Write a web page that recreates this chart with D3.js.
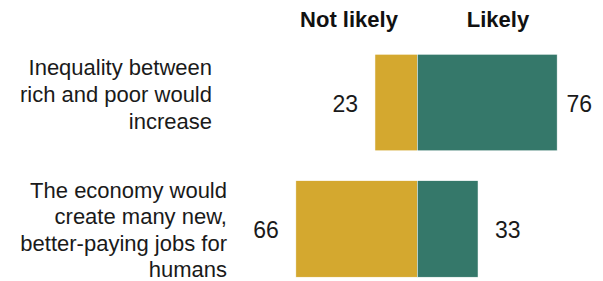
<!DOCTYPE html>
<html>
<head>
<meta charset="utf-8">
<script src="https://cdn.jsdelivr.net/npm/d3@7"></script>
<style>
  html, body { margin: 0; padding: 0; background: #fff; }
  svg { display: block; }
  text { font-family: "Liberation Sans", Arial, sans-serif; fill: #1a1a1a; }
</style>
</head>
<body>
<svg id="chart" width="603" height="281"></svg>
<script>
// ---- data ----
const categories = [
  "Inequality between rich and poor would increase",
  "The economy would create many new, better-paying jobs for humans"
];
const categoryLines = [
  ["Inequality between", "rich and poor would", "increase"],
  ["The economy would", "create many new,", "better-paying jobs for", "humans"]
];
const notLikely = [23, 66];
const likely = [76, 33];
const seriesNames = ["Not likely", "Likely"];
const seriesColors = ["#D4A82F", "#35786A"];

// ---- layout ----
const W = 603, H = 281;
const center = 417.3;
const unit = 1.84;
const svg = d3.select("#chart");

const x = d3.scaleLinear().domain([-100, 100]).range([center - 100 * unit, center + 100 * unit]);
const y = d3.scaleBand().domain(categories).range([54.3, 277.2]).paddingInner(0.237).paddingOuter(0);

// header labels
const headerX = [349, 498];
svg.selectAll("text.header").data(seriesNames).join("text")
  .attr("class", "header")
  .attr("x", (d, i) => headerX[i])
  .attr("y", 27)
  .attr("text-anchor", "middle")
  .style("font-weight", "bold")
  .style("font-size", "22px")
  .style("fill", "#111")
  .text(d => d);

const rows = categories.map((c, i) => ({ cat: c, nl: notLikely[i], l: likely[i], lines: categoryLines[i], i }));

// bars
const g = svg.append("g");
g.selectAll("rect.nl").data(rows).join("rect")
  .attr("class", "nl")
  .attr("x", d => x(-d.nl))
  .attr("y", d => y(d.cat))
  .attr("width", d => x(0) - x(-d.nl))
  .attr("height", y.bandwidth())
  .attr("fill", seriesColors[0])
  .attr("stroke", "#fff").attr("stroke-width", 0.5);

g.selectAll("rect.l").data(rows).join("rect")
  .attr("class", "l")
  .attr("x", x(0))
  .attr("y", d => y(d.cat))
  .attr("width", d => x(d.l) - x(0))
  .attr("height", y.bandwidth())
  .attr("fill", seriesColors[1])
  .attr("stroke", "#fff").attr("stroke-width", 0.5);

// value labels
const valFont = "23px";
g.selectAll("text.vnl").data(rows).join("text")
  .attr("class", "vnl")
  .attr("x", d => x(-d.nl) - 17)
  .attr("y", d => y(d.cat) + y.bandwidth() / 2 + 9)
  .attr("text-anchor", "end")
  .style("font-size", valFont)
  .text(d => d.nl);

g.selectAll("text.vl").data(rows).join("text")
  .attr("class", "vl")
  .attr("y", d => y(d.cat) + y.bandwidth() / 2 + 9)
  .attr("text-anchor", "start")
  .style("font-size", valFont)
  .text(d => d.l)
  .attr("x", function(d) {
    const w = this.getComputedTextLength();
    return Math.min(x(d.l) + 17, 592 - w);
  });

// category labels
const labelRight = [212, 227];
const firstBaseline = [20.7, 17.3];
const lineH = [27, 26.3];
rows.forEach(r => {
  const t = g.append("text")
    .attr("text-anchor", "end")
    .style("font-size", "22px");
  r.lines.forEach((ln, k) => {
    t.append("tspan")
      .attr("x", labelRight[r.i])
      .attr("y", y(r.cat) + firstBaseline[r.i] + k * lineH[r.i])
      .text(ln);
  });
});
</script>
</body>
</html>
